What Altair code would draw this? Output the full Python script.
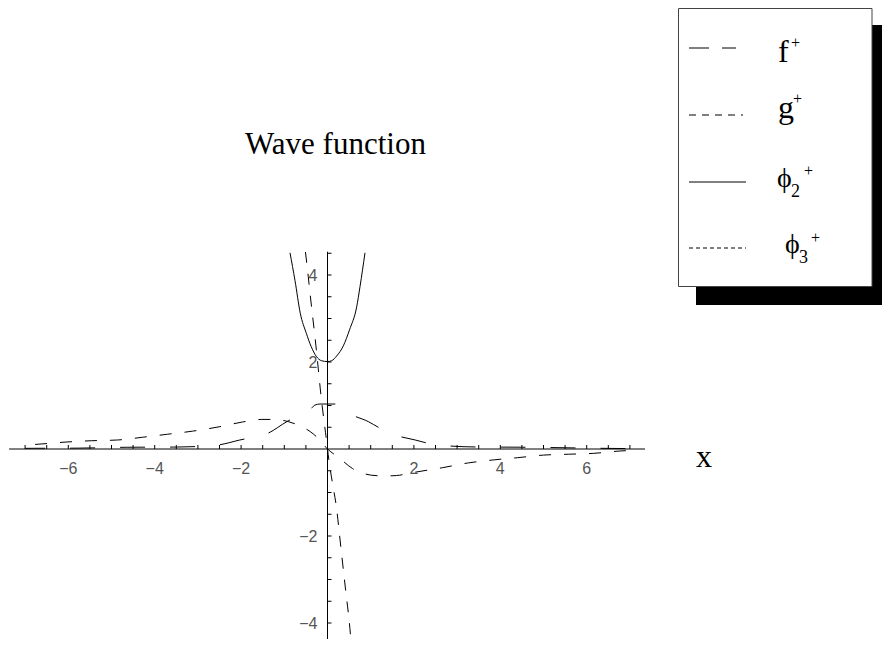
import altair as alt
import pandas as pd

# ---------------- data ----------------
# f+ (long dashes, even)
F_X = [-7.0, -6.82, -5.78, -4.62, -3.48, -2.56, -2.03, -1.38, -0.94, -0.405, -0.29, -0.174,
       0.0, 0.174, 0.29, 0.405, 0.944, 1.447, 2.03, 2.56, 3.48, 4.69, 5.85, 6.96, 7.0]
F_Y = [0.015, 0.016, 0.02, 0.04, 0.045, 0.09, 0.207, 0.36, 0.63, 0.90, 1.01, 1.034,
       1.034, 1.034, 1.02, 0.90, 0.63, 0.36, 0.207, 0.09, 0.046, 0.04, 0.023, 0.01, 0.01]

# g+ (medium dashes, odd)
G_X = [-7.0, -6.63, -6.05, -5.47, -4.86, -4.28, -3.70, -3.125, -2.51, -1.97, -1.52, -1.22,
       -0.91, -0.68, -0.40, -0.17, 0.0, 0.125, 0.25, 0.58, 1.0, 1.3, 1.6, 1.93, 2.66, 3.26,
       3.85, 4.40, 5.0, 5.58, 6.16, 6.77, 7.0]
G_Y = [0.09, 0.115, 0.16, 0.19, 0.207, 0.27, 0.34, 0.41, 0.51, 0.62, 0.68, 0.68,
       0.63, 0.55, 0.40, 0.20, 0.0, -0.10, -0.19, -0.45, -0.60, -0.62, -0.61, -0.55, -0.43, -0.32,
       -0.25, -0.20, -0.14, -0.12, -0.10, -0.046, -0.035]

# phi2+ (solid)
P2_X = [-0.868, -0.752, -0.63, -0.49, -0.38, -0.26, -0.14, 0.0, 0.097, 0.213, 0.366, 0.51,
        0.676, 0.752, 0.868]
P2_Y = [4.51, 3.87, 3.12, 2.66, 2.36, 2.13, 2.03, 2.01, 2.03, 2.14, 2.37, 2.74,
        3.27, 3.73, 4.51]

# phi3+ (fine dashes, steep)
P3_X = [-0.51, -0.445, -0.37, -0.29, -0.215, -0.15, -0.09, -0.03, 0.0, 0.05, 0.13, 0.21,
        0.27, 0.325, 0.385, 0.44, 0.50, 0.54]
P3_Y = [4.53, 3.96, 3.27, 2.58, 1.86, 1.22, 0.72, 0.25, 0.0, -0.38, -0.87, -1.36,
        -1.90, -2.40, -2.94, -3.42, -3.93, -4.37]

X_TICKS = [v / 2 for v in range(-14, 15) if v != 0]
Y_TICKS = [v / 2 for v in range(-8, 10) if v != 0]
X_LABEL_VALUES = [-6, -4, -2, 2, 4, 6]
X_LABELS = ["\u22126", "\u22124", "\u22122", "2", "4", "6"]
Y_LABEL_VALUES = [-4, -2, 2, 4]
Y_LABELS = ["\u22124", "\u22122", "2", "4"]
AXIS_X_SPAN = [-7.37, 7.35]
AXIS_Y_SPAN = [-4.5, 4.535]

TITLE = "Wave function"
XLABEL = "x"

# ---------------- layout ----------------
W, H = 874, 631
X0_PAGE, Y0_PAGE = 327.5, 449.0
XPX, YPX = 43.2, 43.5
XMIN = -(X0_PAGE - 8) / XPX
XMAX = XMIN + W / XPX
YMAX = (Y0_PAGE - 8) / YPX
YMIN = YMAX - H / YPX

xs = alt.Scale(domain=[XMIN, XMAX], nice=False, zero=False)
ys = alt.Scale(domain=[YMIN, YMAX], nice=False, zero=False)
SERIF = "Liberation Serif"
SANS = "Liberation Sans"


def X(f):
    return alt.X(f, type="quantitative", scale=xs, axis=None)


def Y(f):
    return alt.Y(f, type="quantitative", scale=ys, axis=None)


def curve(xv, yv, dash=None, offset=0):
    df = pd.DataFrame({"x": xv, "y": yv, "i": list(range(len(xv)))})
    props = dict(color="black", strokeWidth=1, interpolate="monotone")
    if dash:
        props["strokeDash"] = dash
        props["strokeDashOffset"] = offset
    return alt.Chart(df).mark_line(**props).encode(x=X("x"), y=Y("y"), order="i:Q")


one = pd.DataFrame({"a": [0]})

layers = []

# axes
layers.append(alt.Chart(pd.DataFrame({"x": [AXIS_X_SPAN[0]], "x2": [AXIS_X_SPAN[1]], "y": [0]}))
              .mark_rule(color="black", strokeWidth=1)
              .encode(x=X("x"), x2="x2", y=Y("y")))
layers.append(alt.Chart(pd.DataFrame({"y": [AXIS_Y_SPAN[0]], "y2": [AXIS_Y_SPAN[1]], "x": [0]}))
              .mark_rule(color="black", strokeWidth=1)
              .encode(y=Y("y"), y2="y2", x=X("x")))
layers.append(alt.Chart(pd.DataFrame({"x": X_TICKS, "y": [0] * len(X_TICKS)}))
              .mark_tick(orient="vertical", size=4, thickness=1, color="black", yOffset=-2, opacity=1)
              .encode(x=X("x"), y=Y("y")))
layers.append(alt.Chart(pd.DataFrame({"y": Y_TICKS, "x": [0] * len(Y_TICKS)}))
              .mark_tick(orient="horizontal", size=4, thickness=1, color="black", xOffset=2, opacity=1)
              .encode(x=X("x"), y=Y("y")))
layers.append(alt.Chart(pd.DataFrame({"x": X_LABEL_VALUES, "y": [0] * 6, "t": X_LABELS}))
              .mark_text(font=SANS, fontSize=16, color="#555", align="center", baseline="alphabetic", dy=25)
              .encode(x=X("x"), y=Y("y"), text="t:N"))
layers.append(alt.Chart(pd.DataFrame({"y": Y_LABEL_VALUES, "x": [0] * 4, "t": Y_LABELS}))
              .mark_text(font=SANS, fontSize=16, color="#555", align="right", baseline="alphabetic", dx=-10, dy=6)
              .encode(x=X("x"), y=Y("y"), text="t:N"))

# curves
layers.append(curve(F_X, F_Y, [25, 25], 5))
layers.append(curve(G_X, G_Y, [12, 13], 15))
layers.append(curve(P2_X, P2_Y))
layers.append(curve(P3_X, P3_Y, [11, 11], 0))

# title and axis label
layers.append(alt.Chart(one).mark_text(text=TITLE, font=SERIF, fontSize=31, align="center",
                                       baseline="alphabetic", color="black")
              .encode(x=alt.value(327.5), y=alt.value(146)))
layers.append(alt.Chart(one).mark_text(text=XLABEL, font=SERIF, fontSize=32, align="left",
                                       baseline="alphabetic", color="black")
              .encode(x=alt.value(688), y=alt.value(459)))

# legend box with shadow
layers.append(alt.Chart(one).mark_rect(color="black")
              .encode(x=alt.value(688), x2=alt.value(874), y=alt.value(17), y2=alt.value(297)))
layers.append(alt.Chart(one).mark_rect(fill="white", stroke="#444", strokeWidth=1)
              .encode(x=alt.value(670.5), x2=alt.value(864), y=alt.value(0.5), y2=alt.value(278.5)))

samples = [  # (x1, x2, y, dash)
    (681, 728, 40, [20, 13]),
    (681, 735, 107, [7, 6]),
    (681, 738, 174, None),
    (681, 738, 240, [4, 3]),
]
for x1, x2, yy, dash in samples:
    p = dict(color="black", strokeWidth=1)
    if dash:
        p["strokeDash"] = dash
    layers.append(alt.Chart(one).mark_rule(**p)
                  .encode(x=alt.value(x1), x2=alt.value(x2), y=alt.value(yy)))

texts = [  # (text, x, y, size)
    ("f", 770, 53.5, 32), ("+", 783, 39.5, 16),
    ("g", 770, 110, 32), ("+", 785, 96, 16),
    ("\u03d5", 769, 179, 28), ("2", 783, 189, 18), ("+", 796, 168, 16),
    ("\u03d5", 777, 245, 28), ("3", 791, 255, 18), ("+", 803, 235, 16),
]
for t, tx, ty, sz in texts:
    layers.append(alt.Chart(one).mark_text(text=t, font=SERIF, fontSize=sz, align="left",
                                           baseline="alphabetic", color="black")
                  .encode(x=alt.value(tx), y=alt.value(ty)))

chart = (alt.layer(*layers)
         .properties(width=W, height=H, autosize=alt.AutoSizeParams(type="none"), padding=0,
                     background="white")
         .configure_view(stroke=None))

chart.save("out.html", embed_options={"renderer": "svg", "actions": False})
